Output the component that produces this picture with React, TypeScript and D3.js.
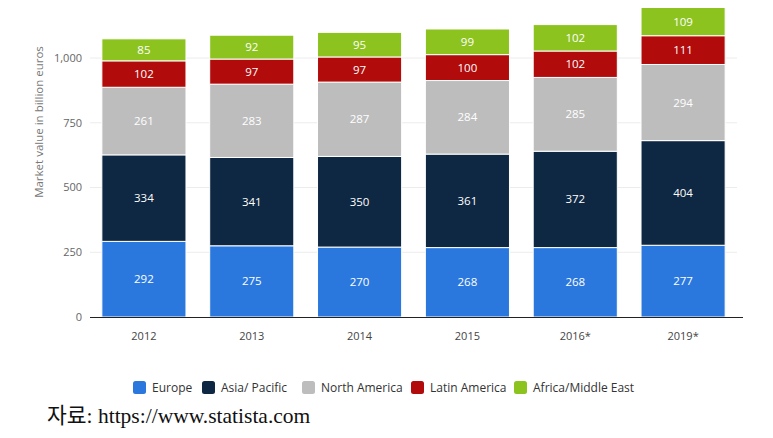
import React from "react";
import * as d3 from "d3";

const years = ["2012", "2013", "2014", "2015", "2016*", "2019*"];
const seriesNames = ["Europe", "Asia/ Pacific", "North America", "Latin America", "Africa/Middle East"];
const europe = [292, 275, 270, 268, 268, 277];
const asiaPacific = [334, 341, 350, 361, 372, 404];
const northAmerica = [261, 283, 287, 284, 285, 294];
const latinAmerica = [102, 97, 97, 100, 102, 111];
const africaMiddleEast = [85, 92, 95, 99, 102, 109];
const yTicks = [0, 250, 500, 750, 1000];
const colors = ["#2a78de", "#0e2742", "#bdbdbd", "#b10b0b", "#8cc31f"];

const seriesValues = [europe, asiaPacific, northAmerica, latinAmerica, africaMiddleEast];

export default function App() {
  const W = 773, H = 438;
  const x = d3.scaleBand<string>().domain(years).range([90, 737]).paddingInner(0.22).paddingOuter(0.11);
  const y = d3.scaleLinear().domain([0, 1000]).range([317, 58]);

  const table = years.map((yr, i) => {
    const o: any = { year: yr };
    seriesNames.forEach((s, k) => (o[s] = seriesValues[k][i]));
    return o;
  });
  const stacked = d3.stack<any>().keys(seriesNames)(table);
  const fmt = d3.format(",");

  const legendX = [133, 202, 302, 411, 514];

  return (
    <svg width={W} height={H} style={{ position: "absolute", left: 0, top: 0, background: "#fff" }}
      fontFamily="'Open Sans', sans-serif">
      {yTicks.map((t) => (
        <g key={t}>
          {t > 0 && <line x1={90} x2={737} y1={y(t)} y2={y(t)} stroke="#ececec" strokeWidth={1} />}
          <text x={82} y={y(t)} dy="0.35em" textAnchor="end" fontSize={11} fill="#666">{fmt(t)}</text>
        </g>
      ))}
      <text transform={`translate(43,122) rotate(-90)`} textAnchor="middle" fontSize={11.5} fill="#777">
        Market value in billion euros
      </text>
      {stacked.map((layer, k) => (
        <g key={layer.key}>
          {layer.map((d, i) => (
            <g key={i}>
              <rect x={x(years[i])} width={x.bandwidth()} y={y(d[1])} height={y(d[0]) - y(d[1])}
                fill={colors[k]} stroke="#fff" strokeWidth={1} />
              <text x={(x(years[i]) as number) + x.bandwidth() / 2} y={(y(d[0]) + y(d[1])) / 2} dy="0.35em"
                textAnchor="middle" fontSize={11.5} fill="#fff">{seriesValues[k][i]}</text>
            </g>
          ))}
        </g>
      ))}
      <line x1={90} x2={743} y1={317.5} y2={317.5} stroke="#222" strokeWidth={1} />
      {years.map((yr) => (
        <text key={yr} x={(x(yr) as number) + x.bandwidth() / 2} y={336} dy="0.35em" textAnchor="middle"
          fontSize={11} fill="#444">{yr}</text>
      ))}
      {seriesNames.map((s, k) => (
        <g key={s} transform={`translate(${legendX[k]},381)`}>
          <rect x={0} y={0} width={13} height={13} rx={2.5} fill={colors[k]} />
          <text x={19} y={6.5} dy="0.35em" fontSize={12} fill="#333">{s}</text>
        </g>
      ))}
      <text x={47} y={423} fontSize={21.5} fill="#111" fontFamily="'Liberation Serif', 'Noto Sans CJK KR', serif">
        자료:  https://www.statista.com
      </text>
    </svg>
  );
}
